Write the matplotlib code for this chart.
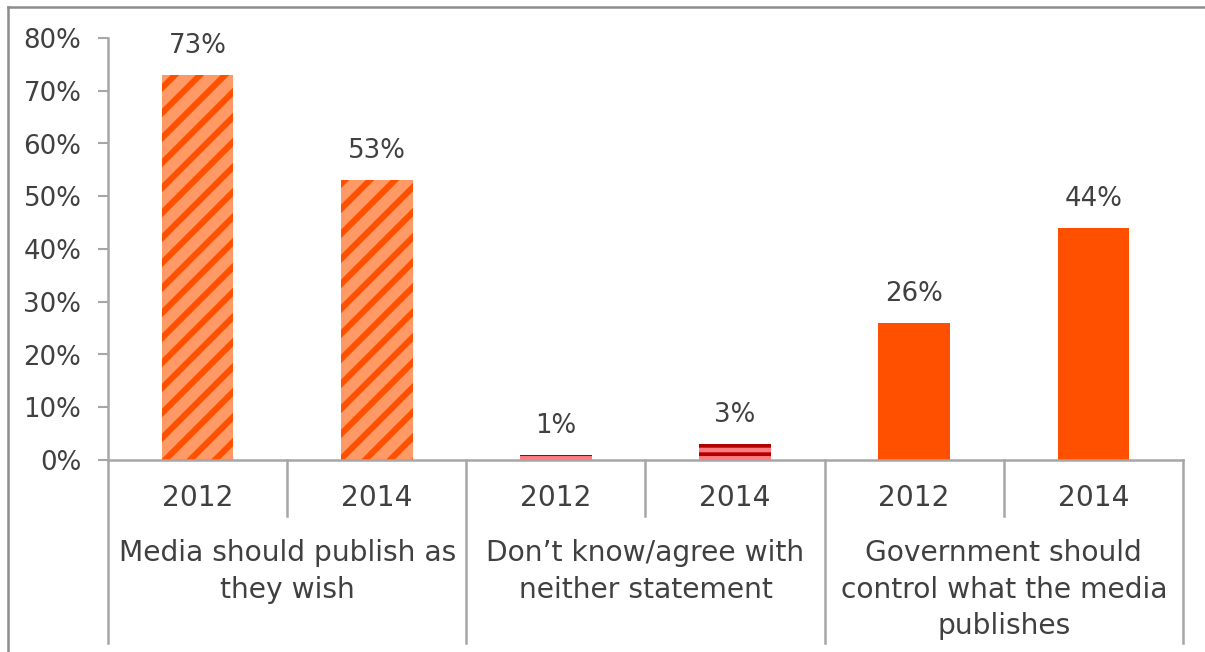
import matplotlib
matplotlib.use("Agg")
import matplotlib.pyplot as plt
from matplotlib.lines import Line2D
import matplotlib.transforms as mtransforms

# Survey answers, share of respondents (%)
groups = ["Media should publish as\nthey wish",
          "Don\u2019t know/agree with\nneither statement",
          "Government should\ncontrol what the media\npublishes"]
years = ["2012", "2014"]
media_free = [73, 53]
dont_know = [1, 3]
gov_control = [26, 44]
y_ticks = [0, 10, 20, 30, 40, 50, 60, 70, 80]

TEXT = "#404040"
GRID = "#A6A6A6"

plt.rcParams['font.family'] = ['DejaVu Sans']

fig = plt.figure(figsize=(8.04, 4.3467), dpi=150)
ax = fig.add_axes([108 / 1206, 1 - 460 / 652, 1075 / 1206, 422 / 652])

width = 0.4
series = [
    (media_free, dict(color="#FF9966", edgecolor="#FF5000", hatch="//", linewidth=0), 2.9),
    (dont_know, dict(color="#FF7C80", edgecolor="#B00000", hatch="---", linewidth=0), 1.8),
    (gov_control, dict(color="#FF5000", linewidth=0), 1.0),
]
for gi, (vals, style, hlw) in enumerate(series):
    xs = [gi * 2 + k for k in range(len(vals))]
    with plt.rc_context({'hatch.linewidth': hlw}):
        bars = ax.bar(xs, vals, width=width, zorder=2, **style)
    for b, v in zip(bars, vals):
        ax.annotate(f"{v}%", (b.get_x() + b.get_width() / 2, v),
                    xytext=(0, 14), textcoords="offset points",
                    ha="center", va="center", fontsize=12.5, color=TEXT)

ax.set_xlim(-0.5, 5.5)
ax.set_ylim(0, 80)
ax.set_yticks(y_ticks)
ax.set_yticklabels([f"{t}%" for t in y_ticks])
ax.tick_params(axis="y", length=4.8, width=1, color=GRID, pad=8,
               labelsize=12.5, labelcolor=TEXT)
ax.set_xticks([])
for s in ["top", "right"]:
    ax.spines[s].set_visible(False)
for s in ["left", "bottom"]:
    ax.spines[s].set_color(GRID)
    ax.spines[s].set_linewidth(1.2)
ax.spines["bottom"].set_bounds(-0.5, 5.5)

# Category axis: year labels, dividers and group labels below the plot
trans = mtransforms.blended_transform_factory(ax.transData, ax.transAxes)
for gi, g in enumerate(groups):
    for k, yr in enumerate(years):
        ax.text(gi * 2 + k, -0.09, yr, transform=trans, ha="center",
                va="center", fontsize=13.5, color=TEXT)
    ax.text(gi * 2 + 0.5, -0.188, g, transform=trans, ha="center", va="top",
            fontsize=13.5, color=TEXT, linespacing=1.38)
    ax.add_line(Line2D([gi * 2 + 0.5] * 2, [0, -0.133], transform=trans,
                       color=GRID, lw=1.2, clip_on=False))
for xb in [-0.5, 1.5, 3.5, 5.5]:
    ax.add_line(Line2D([xb] * 2, [0, -0.433], transform=trans,
                       color=GRID, lw=1.2, clip_on=False))

# Outer frame (left and top edges)
fig.add_artist(Line2D([8 / 1206, 8 / 1206], [0, 1 - 7 / 652],
                      transform=fig.transFigure, color="#8C8C8C", lw=1.2))
fig.add_artist(Line2D([8 / 1206, 1], [1 - 7 / 652, 1 - 7 / 652],
                      transform=fig.transFigure, color="#8C8C8C", lw=1.2))

fig.savefig("out.png", dpi=150)
